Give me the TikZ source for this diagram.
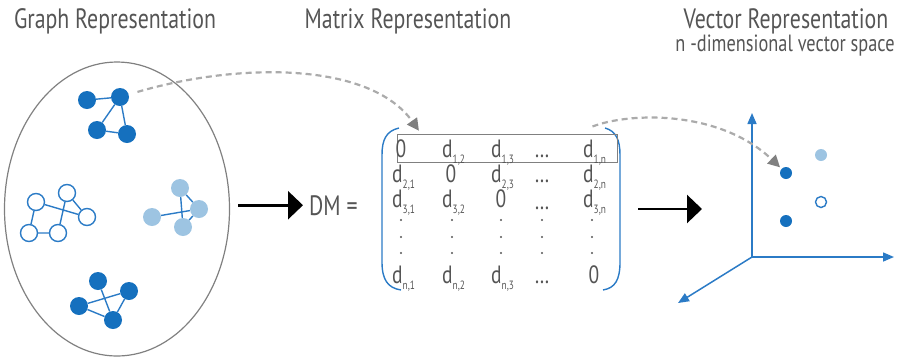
\documentclass[tikz,border=0pt]{standalone}
\usepackage{fontspec}
\setmainfont[FakeStretch=0.78]{PT Sans}
\usepackage{xcolor}
\usetikzlibrary{arrows.meta,calc,shapes.geometric,backgrounds}

\definecolor{dkblue}{HTML}{1570BE}
\definecolor{ltblue}{HTML}{9DC4E2}
\definecolor{lnblue}{HTML}{2B7BC6}
\definecolor{txtgray}{HTML}{555555}
\definecolor{hintgray}{HTML}{ABABAB}

\newcommand{\dd}[1]{d\raisebox{-6.5pt}{\fontsize{12}{12}\selectfont #1}}

\begin{document}
\begin{tikzpicture}[x=1pt, y=-1pt,
  gnode/.style={circle, fill=dkblue, minimum size=18pt, inner sep=0pt},
  lnode/.style={circle, fill=ltblue, minimum size=18pt, inner sep=0pt},
  onode/.style={circle, draw=lnblue, line width=1.4pt, fill=white,
                minimum size=17pt, inner sep=0pt},
  link/.style={draw=lnblue, line width=1.4pt},
  title/.style={font=\fontsize{28}{30}\selectfont, text=txtgray, anchor=base,
                inner sep=0pt},
  entry/.style={font=\fontsize{25}{27}\selectfont, text=txtgray, anchor=base,
                inner sep=0pt},
  dentry/.style={entry, anchor=base west},
  hint/.style={draw=hintgray, line width=2.2pt, dash pattern=on 6pt off 4pt,
               -{Triangle[length=12pt,width=12pt,color=gray]}},
  bigarrow/.style={-{Triangle[length=15pt,width=28pt]}, line width=2.6pt},
  axis/.style={-{Triangle[length=11pt,width=9pt]}, draw=lnblue, line width=1.5pt},
  vpt/.style={circle, minimum size=12pt, inner sep=0pt}
]
  \useasboundingbox (0,0) rectangle (904,357);

  % titles
  \node[title] (gtitle) at (115,28) {Graph Representation};
  \node[title] (mtitle) at (408,28) {Matrix Representation};
  \node[title] (vtitle) at (786,28) {Vector Representation};
  \node[title, font=\fontsize{23.5}{25}\selectfont] (vsub) at (785,51)
    {n -dimensional vector space};

  % set of graphs
  \node[ellipse, draw=gray, line width=1.2pt, minimum width=225pt,
        minimum height=294pt] (graphs) at (117,209) {};

  \node[gnode] (a1) at (87,100) {};
  \node[gnode] (a2) at (120,97) {};
  \node[gnode] (a3) at (97,130) {};
  \node[gnode] (a4) at (127,134) {};

  \node[onode] (b1) at (36,202) {};
  \node[onode] (b2) at (67,193) {};
  \node[onode] (b3) at (87,217) {};
  \node[onode] (b4) at (29,233) {};
  \node[onode] (b5) at (58,233) {};

  \node[lnode] (c1) at (180,188) {};
  \node[lnode] (c2) at (199,209) {};
  \node[lnode] (c3) at (152,217) {};
  \node[lnode] (c4) at (183,227) {};

  \node[gnode] (e1) at (98,281) {};
  \node[gnode] (e2) at (129,291) {};
  \node[gnode] (e3) at (79,306) {};
  \node[gnode] (e4) at (113,320) {};

  \begin{scope}[on background layer]
    \draw[link] (a1) -- (a2) -- (a3) -- (a4) -- (a2);
    \draw[link] (b1) -- (b3) -- (b2) -- (b5) -- (b4) -- (b1);
    \draw[link] (c3) -- (c2) -- (c4) -- (c1) -- (c2);
    \draw[link] (e3) -- (e2) -- (e4) -- (e3);
    \draw[link] (e1) -- (e4);
  \end{scope}

  % distance matrix
  \node[entry, anchor=base west, font=\fontsize{28}{30}\selectfont]
    (dm) at (309,215) {DM =};
  \node[minimum width=240pt, minimum height=165pt, inner sep=0pt] (mat)
    at (501,209) {};

  \draw[lnblue, line width=1.4pt]
    (399,128) .. controls (386,131) and (382,140) .. (382,155) -- (382,262)
    .. controls (382,280) and (388,288) .. (401,290);
  \draw[lnblue, line width=1.4pt]
    (605,128) .. controls (616,131) and (620,140) .. (620,155) -- (620,262)
    .. controls (620,280) and (615,288) .. (603,290);

  \node[draw=gray, line width=1pt, minimum width=220pt, minimum height=28pt,
        inner sep=0pt] (row) at (507,148) {};

  \node[entry]  (m11) at (401,157) {0};
  \node[dentry] (m12) at (442,157) {\dd{1,2}};
  \node[dentry] (m13) at (491,157) {\dd{1,3}};
  \node[entry]  (m14) at (542,157) {\ldots};
  \node[dentry] (m15) at (583,157) {\dd{1,n}};

  \node[dentry] (m21) at (392,182) {\dd{2,1}};
  \node[entry]  (m22) at (451,182) {0};
  \node[dentry] (m23) at (491,182) {\dd{2,3}};
  \node[entry]  (m24) at (542,182) {\ldots};
  \node[dentry] (m25) at (583,182) {\dd{2,n}};

  \node[dentry] (m31) at (392,207) {\dd{3,1}};
  \node[dentry] (m32) at (442,207) {\dd{3,2}};
  \node[entry]  (m33) at (501,207) {0};
  \node[entry]  (m34) at (542,209) {\ldots};
  \node[dentry] (m35) at (583,207) {\dd{3,n}};

  \foreach \x in {401,452,501,542,592}
    \foreach \y in {220,237,253}
      \fill[txtgray] (\x,\y) circle (1.2pt);

  \node[dentry] (mn1) at (392,283) {\dd{n,1}};
  \node[dentry] (mn2) at (442,283) {\dd{n,2}};
  \node[dentry] (mn3) at (491,283) {\dd{n,3}};
  \node[entry]  (mn4) at (542,283) {\ldots};
  \node[entry]  (mn5) at (594,283) {0};

  % vector space
  \coordinate (O) at (752,257);
  \coordinate (vspace) at (702,209);
  \draw[axis] (O) -- (752,113);
  \draw[axis] (O) -- (894,257);
  \draw[axis] (O) -- (678,303);

  \node[vpt, fill=dkblue] (v1) at (786,173) {};
  \node[vpt, fill=ltblue] (v2) at (821,155) {};
  \node[vpt, draw=lnblue, line width=1.4pt, fill=white, minimum size=11pt]
    (v3) at (821,202) {};
  \node[vpt, fill=dkblue] (v4) at (786,221) {};

  % steps
  \draw[bigarrow, shorten <=8pt, shorten >=6pt] (graphs.east |- dm.west) -- (dm.west);
  \draw[bigarrow, shorten <=17pt] (mat.east) -- (vspace);

  \coordinate (rowin) at ($(row.north west)+(23,-2)$);
  \coordinate (rowout) at ($(row.north east)+(-25,-7)$);
  \draw[hint, shorten <=9pt, shorten >=1pt]
    (a2) .. controls (240,62) and (370,62) .. (rowin);
  \draw[hint, shorten >=2pt]
    (rowout) .. controls (630,112) and (720,110) .. (v1);
\end{tikzpicture}
\end{document}
